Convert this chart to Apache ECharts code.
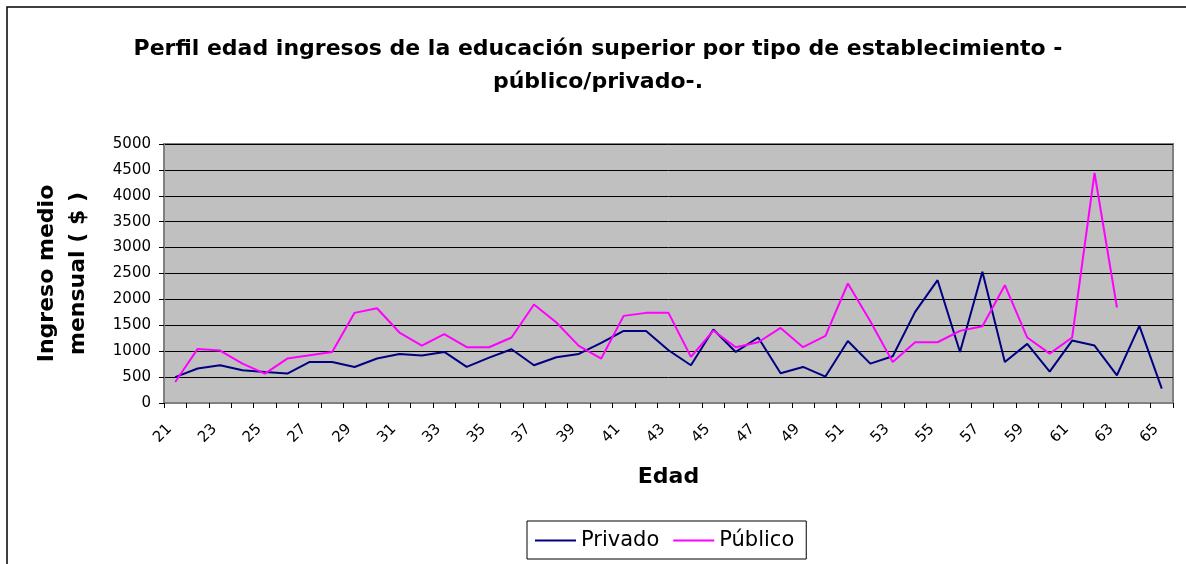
<!DOCTYPE html>
<html>
<head>
<meta charset="utf-8">
<script src="https://cdn.jsdelivr.net/npm/echarts@6/dist/echarts.min.js"></script>
<style>
  html, body { margin: 0; padding: 0; background: #fff; }
  #main { width: 1186px; height: 564px; }
</style>
</head>
<body>
<div id="main"></div>
<script>
// edades 21..65
var edades = [];
for (var a = 21; a <= 65; a++) edades.push(String(a));

var privado = [500, 665, 729, 632, 599, 568, 793, 793, 696, 858,
               947, 916, 986, 696, 877, 1038, 729, 883, 947, 1160,
               1392, 1392, 1019, 729, 1418, 986, 1264, 574, 696, 510,
               1198, 761, 903, 1759, 2371, 986, 2532, 793, 1141, 606,
               1205, 1109, 535, 1489, 278];

var publico = [406, 1044, 1013, 761, 568, 858, 922, 986, 1740, 1830,
               1360, 1109, 1328, 1077, 1077, 1264, 1902, 1554, 1102, 858,
               1682, 1740, 1740, 890, 1399, 1077, 1173, 1450, 1077, 1295,
               2307, 1579, 793, 1173, 1173, 1392, 1482, 2275, 1264, 954,
               1264, 4440, 1844, null, null];

var fuente = 'DejaVu Sans';

var myChart = echarts.init(document.getElementById('main'));
myChart.setOption({
  backgroundColor: '#fff',
  animation: false,
  textStyle: { fontFamily: fuente, color: '#000' },
  title: {
    text: 'Perfil edad ingresos de la educación superior por tipo de establecimiento -\npúblico/privado-.',
    left: 593,
    top: 28,
    textAlign: 'center',
    textStyle: { fontFamily: fuente, fontSize: 22, fontWeight: 'bold', color: '#000', lineHeight: 33 }
  },
  graphic: [{
    type: 'rect',
    shape: { x: 7, y: 7, width: 1400, height: 800 },
    style: { fill: null, stroke: '#000', lineWidth: 1.5 },
    silent: true,
    z: -1
  }],
  legend: {
    data: ['Privado', 'Público'],
    left: 527,
    top: 521,
    icon: 'rect',
    itemWidth: 41,
    itemHeight: 2,
    itemGap: 14,
    padding: [9, 12, 8, 8],
    borderColor: '#000',
    borderWidth: 1,
    backgroundColor: '#fff',
    textStyle: { fontFamily: fuente, fontSize: 21, color: '#000' }
  },
  grid: {
    left: 164,
    top: 144,
    width: 1009,
    height: 259,
    show: true,
    backgroundColor: '#C0C0C0',
    borderColor: '#808080',
    borderWidth: 2
  },
  xAxis: {
    type: 'category',
    data: edades,
    boundaryGap: true,
    name: 'Edad',
    nameLocation: 'middle',
    nameGap: 63,
    nameTextStyle: { fontFamily: fuente, fontSize: 22, fontWeight: 'bold', color: '#000' },
    axisLine: { lineStyle: { color: '#808080', width: 2 } },
    axisTick: { show: true, interval: 0, length: 5, lineStyle: { color: '#000' } },
    axisLabel: {
      interval: 1,
      rotate: 45,
      margin: 18,
      padding: [0, 8, 0, 0],
      fontFamily: fuente,
      fontSize: 15,
      color: '#000'
    },
    splitLine: { show: false }
  },
  yAxis: {
    type: 'value',
    min: 0,
    max: 5000,
    interval: 500,
    name: 'Ingreso medio\nmensual ( $ )',
    nameLocation: 'middle',
    nameRotate: 90,
    nameGap: 70,
    nameTextStyle: { fontFamily: fuente, fontSize: 22, fontWeight: 'bold', color: '#000', lineHeight: 31 },
    axisLine: { show: true, lineStyle: { color: '#808080', width: 2 } },
    axisTick: { show: true, length: 5, lineStyle: { color: '#000' } },
    axisLabel: {
      margin: 13,
      fontFamily: fuente,
      fontSize: 15,
      color: '#000',
      formatter: function (v) { return String(v); }
    },
    splitLine: { show: true, lineStyle: { color: '#000', width: 1 } }
  },
  series: [
    {
      name: 'Privado',
      type: 'line',
      data: privado,
      symbol: 'none',
      color: '#000080',
      lineStyle: { color: '#000080', width: 2 }
    },
    {
      name: 'Público',
      type: 'line',
      data: publico,
      symbol: 'none',
      color: '#FF00FF',
      lineStyle: { color: '#FF00FF', width: 2 }
    }
  ]
});
</script>
</body>
</html>
